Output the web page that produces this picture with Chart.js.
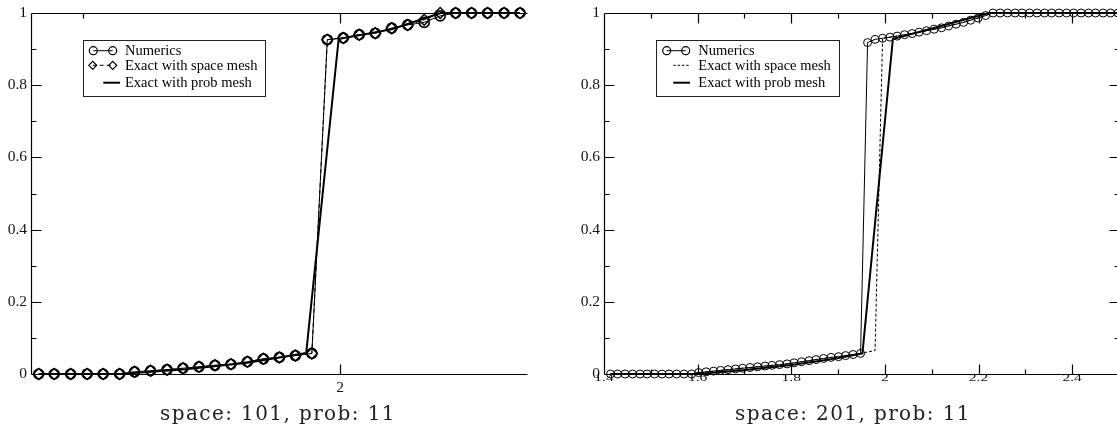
<!DOCTYPE html>
<html>
<head>
<meta charset="utf-8">
<script src="https://cdn.jsdelivr.net/npm/chart.js@4.4.1/dist/chart.umd.min.js"></script>
<style>
  html, body { margin: 0; padding: 0; background: #fff; }
  body { width: 1117px; height: 436px; overflow: hidden; position: relative; }
  canvas { position: absolute; top: 0; }
  .caption {
    position: absolute; top: 401px;
    font-family: 'DejaVu Serif', serif; font-size: 20px; letter-spacing: 1.4px;
    color: #222; white-space: nowrap; transform: translateX(-50%);
  }
</style>
</head>
<body>
<canvas id="leftChart" width="560" height="436" style="left:0;width:560px;height:436px"></canvas>
<canvas id="rightChart" width="580" height="436" style="left:560px;width:580px;height:436px"></canvas>
<div class="caption" style="left:278px">space: 101, prob: 11</div>
<div class="caption" style="left:853px">space: 201, prob: 11</div>
<script>
// ---- space: 101 ----
const leftX = [1.415, 1.445, 1.477, 1.509, 1.540, 1.572, 1.601, 1.632, 1.664, 1.695, 1.726,
  1.757, 1.788, 1.820, 1.851, 1.882, 1.913, 1.945, 1.975, 2.006, 2.037, 2.068, 2.100,
  2.131, 2.163, 2.194, 2.224, 2.255, 2.286, 2.318, 2.349];
const leftNumerics = [0, 0, 0, 0, 0, 0, 0.006, 0.009, 0.012, 0.016, 0.020, 0.024, 0.027,
  0.034, 0.042, 0.046, 0.051, 0.057, 0.926, 0.931, 0.940, 0.944, 0.958, 0.967, 0.974,
  0.992, 1, 1, 1, 1, 1];
const leftSpace = [0, 0, 0, 0, 0, 0, 0.006, 0.009, 0.012, 0.016, 0.020, 0.024, 0.027,
  0.034, 0.042, 0.046, 0.051, 0.057, 0.926, 0.931, 0.940, 0.944, 0.958, 0.967, 0.981,
  1, 1, 1, 1, 1, 1];
const leftProbX = [1.415, 1.572, 1.700, 1.820, 1.934, 1.997, 2.100, 2.195, 2.349];
const leftProbY = [0, 0, 0.013, 0.031, 0.058, 0.928, 0.955, 1, 1];

// ---- space: 201 ----
const rightX = [1.414, 1.429, 1.445, 1.461, 1.477, 1.492, 1.508, 1.524, 1.539, 1.555,
  1.571, 1.587, 1.602, 1.618, 1.634, 1.649, 1.665, 1.681, 1.696, 1.712, 1.728, 1.744,
  1.759, 1.775, 1.791, 1.806, 1.822, 1.838, 1.853, 1.869, 1.885, 1.901, 1.916, 1.932,
  1.948, 1.963, 1.979, 1.995, 2.011, 2.026, 2.042, 2.058, 2.073, 2.089, 2.105, 2.121,
  2.136, 2.152, 2.168, 2.183, 2.199, 2.215, 2.231, 2.246, 2.262, 2.278, 2.293, 2.309,
  2.325, 2.341, 2.356, 2.372, 2.388, 2.403, 2.419, 2.435, 2.450, 2.466, 2.482, 2.498];
const rightNumerics = [0, 0, 0, 0, 0, 0, 0, 0, 0, 0, 0, 0,
  0.004, 0.006, 0.008, 0.010, 0.012, 0.014, 0.016, 0.018, 0.020, 0.022, 0.024, 0.026,
  0.028, 0.031, 0.034, 0.037, 0.040, 0.043, 0.046, 0.048, 0.051, 0.054, 0.057,
  0.918, 0.927, 0.930, 0.933, 0.936, 0.940, 0.943, 0.947, 0.951, 0.955, 0.959, 0.964,
  0.969, 0.974, 0.980, 0.986, 0.993, 1,
  1, 1, 1, 1, 1, 1, 1, 1, 1, 1, 1, 1, 1, 1, 1, 1, 1];
const rightSpace = [0, 0, 0, 0, 0, 0, 0, 0, 0, 0, 0, 0,
  0.004, 0.006, 0.008, 0.010, 0.012, 0.014, 0.016, 0.018, 0.020, 0.022, 0.024, 0.026,
  0.028, 0.031, 0.034, 0.037, 0.040, 0.043, 0.046, 0.048, 0.051, 0.054, 0.057,
  0.061, 0.065, 0.930, 0.933, 0.936, 0.940, 0.943, 0.947, 0.951, 0.955, 0.959, 0.964,
  0.969, 0.974, 0.980, 0.986, 0.993, 1,
  1, 1, 1, 1, 1, 1, 1, 1, 1, 1, 1, 1, 1, 1, 1, 1, 1];
const rightProbX = [1.414, 1.600, 1.700, 1.800, 1.900, 1.952, 2.017, 2.222, 2.498];
const rightProbY = [0, 0, 0.011, 0.025, 0.044, 0.057, 0.928, 1, 1];

// ---- axes ----
const yMajor = [0, 0.2, 0.4, 0.6, 0.8, 1];
const yMinor = [0.1, 0.3, 0.5, 0.7, 0.9];
const yLabels = ['0', '0.2', '0.4', '0.6', '0.8', '1'];
const leftXMajor = [2];
const leftXMinor = [1.5];
const leftXLabels = ['2'];
const rightXMajor = [1.4, 1.6, 1.8, 2, 2.2, 2.4];
const rightXMinor = [1.5, 1.7, 1.9, 2.1, 2.3];
const rightXLabels = ['1.4', '1.6', '1.8', '2', '2.2', '2.4'];
const seriesNames = ['Numerics', 'Exact with space mesh', 'Exact with prob mesh'];

const pts = (xs, ys) => xs.map((x, i) => ({ x, y: ys[i] }));

// box, inward ticks and tick labels
const framePlugin = {
  id: 'frame',
  beforeDatasetsDraw(chart, args, o) {
    const { ctx, chartArea: a, scales: { x, y } } = chart;
    const L = Math.round(a.left) + 0.5, R = Math.round(a.right) + 0.5;
    const T = Math.round(a.top) + 0.5, B = Math.round(a.bottom) + 0.5;
    ctx.save();
    ctx.strokeStyle = '#000';
    ctx.lineWidth = 1.2;
    ctx.beginPath();
    ctx.moveTo(L, T); ctx.lineTo(L, B);
    ctx.moveTo(L, T); ctx.lineTo(R, T);
    ctx.moveTo(L, B); ctx.lineTo(R, B);
    if (o.rightAxis) { ctx.moveTo(R, T); ctx.lineTo(R, B); }
    const xt = (v, len) => {
      const px = Math.round(x.getPixelForValue(v)) + 0.5;
      ctx.moveTo(px, B); ctx.lineTo(px, B - len);
      ctx.moveTo(px, T); ctx.lineTo(px, T + len);
    };
    const yt = (v, len) => {
      const py = Math.round(y.getPixelForValue(v)) + 0.5;
      ctx.moveTo(L, py); ctx.lineTo(L + len, py);
      if (o.rightAxis) { ctx.moveTo(R, py); ctx.lineTo(R - len, py); }
    };
    o.xMajor.forEach(v => xt(v, 10));
    o.xMinor.forEach(v => xt(v, 5));
    yMajor.forEach(v => yt(v, 10));
    yMinor.forEach(v => yt(v, 5));
    ctx.stroke();

    ctx.fillStyle = '#111';
    ctx.font = '15.5px "Liberation Serif"';
    ctx.textAlign = 'right';
    ctx.textBaseline = 'middle';
    yMajor.forEach((v, i) => ctx.fillText(yLabels[i], L - 4.5, y.getPixelForValue(v)));
    ctx.textAlign = 'center';
    ctx.textBaseline = 'top';
    o.xMajor.forEach((v, i) => {
      ctx.save();
      ctx.translate(x.getPixelForValue(v), o.xLabelTop);
      ctx.scale(1, o.xLabelSquash);
      ctx.fillText(o.xLabels[i], 0, 0);
      ctx.restore();
    });
    ctx.restore();
  },
  afterDatasetsDraw(chart, args, o) {
    const { ctx } = chart;
    const g = o.legend;
    ctx.save();
    ctx.fillStyle = '#fff';
    ctx.fillRect(g.x, g.y, g.w, g.h);
    ctx.strokeStyle = '#222';
    ctx.lineWidth = 1;
    ctx.strokeRect(Math.round(g.x) + 0.5, Math.round(g.y) + 0.5, Math.round(g.w), Math.round(g.h));
    chart.data.datasets.forEach((ds, i) => {
      const r = g.rows[i];
      ctx.save();
      ctx.strokeStyle = '#000';
      ctx.lineWidth = ds.borderWidth;
      ctx.setLineDash(r.dash || []);
      ctx.beginPath();
      ctx.moveTo(r.x0, r.y); ctx.lineTo(r.x1, r.y);
      ctx.stroke();
      ctx.restore();
      if (ds.pointRadius > 0) {
        ctx.save();
        ctx.strokeStyle = '#000';
        ctx.fillStyle = 'rgba(0,0,0,0)';
        ctx.lineWidth = 1.2;
        const opts = { pointStyle: ds.pointStyle, radius: g.radius, borderWidth: 1.2 };
        Chart.helpers.drawPoint(ctx, opts, r.x0, r.y);
        Chart.helpers.drawPoint(ctx, opts, r.x1, r.y);
        ctx.restore();
      }
      ctx.fillStyle = '#000';
      ctx.font = '14.5px "Liberation Serif"';
      ctx.textAlign = 'left';
      ctx.textBaseline = 'middle';
      ctx.fillText(ds.label, g.textX, r.y + 0.5);
    });
    ctx.restore();
  }
};

function makeChart(id, cfg) {
  return new Chart(document.getElementById(id), {
    type: 'scatter',
    data: { datasets: cfg.datasets },
    plugins: [framePlugin],
    options: {
      responsive: false,
      animation: false,
      events: [],
      devicePixelRatio: 1,
      layout: { padding: cfg.padding },
      plugins: { legend: { display: false }, tooltip: { enabled: false }, frame: cfg.frame },
      scales: {
        x: { type: 'linear', min: 1.4, max: cfg.xMax, display: false },
        y: { type: 'linear', min: 0, max: 1, display: false }
      }
    }
  });
}

const lineBase = { showLine: true, tension: 0, clip: false, borderColor: '#000',
  pointBorderColor: '#000', pointBackgroundColor: 'rgba(0,0,0,0)' };

makeChart('leftChart', {
  xMax: 2.3625,
  padding: { left: 31, right: 33, top: 13, bottom: 62 },
  datasets: [
    { ...lineBase, label: seriesNames[0], data: pts(leftX, leftNumerics), borderWidth: 1,
      pointStyle: 'circle', pointRadius: 5, pointBorderWidth: 1.6 },
    { ...lineBase, label: seriesNames[1], data: pts(leftX, leftSpace), borderWidth: 1,
      borderDash: [4, 3], pointStyle: 'rectRot', pointRadius: 5.5, pointBorderWidth: 1.4 },
    { ...lineBase, label: seriesNames[2], data: pts(leftProbX, leftProbY), borderWidth: 2,
      pointRadius: 0 }
  ],
  frame: {
    rightAxis: false, xMajor: leftXMajor, xMinor: leftXMinor, xLabels: leftXLabels,
    xLabelTop: 380, xLabelSquash: 1,
    legend: {
      x: 82.5, y: 40, w: 182, h: 56, radius: 4, textX: 125,
      rows: [
        { y: 50.7, x0: 93.3, x1: 112.7 },
        { y: 65.3, x0: 92.7, x1: 112.7, dash: [4, 3] },
        { y: 82.7, x0: 103.3, x1: 120 }
      ]
    }
  }
});

makeChart('rightChart', {
  xMax: 2.5,
  padding: { left: 44, right: 21, top: 13, bottom: 62 },
  datasets: [
    { ...lineBase, label: seriesNames[0], data: pts(rightX, rightNumerics), borderWidth: 1,
      pointStyle: 'circle', pointRadius: 4, pointBorderWidth: 1 },
    { ...lineBase, label: seriesNames[1], data: pts(rightX, rightSpace), borderWidth: 1,
      borderDash: [3, 2], pointRadius: 0 },
    { ...lineBase, label: seriesNames[2], data: pts(rightProbX, rightProbY), borderWidth: 2,
      pointRadius: 0 }
  ],
  frame: {
    rightAxis: true, xMajor: rightXMajor, xMinor: rightXMinor, xLabels: rightXLabels,
    xLabelTop: 373.5, xLabelSquash: 0.62,
    legend: {
      x: 96, y: 40, w: 183.3, h: 56, radius: 4, textX: 138.3,
      rows: [
        { y: 50.7, x0: 106.7, x1: 125.7 },
        { y: 65.3, x0: 113.3, x1: 130, dash: [2.5, 1.8] },
        { y: 82.7, x0: 113.3, x1: 130 }
      ]
    }
  }
});
</script>
</body>
</html>
